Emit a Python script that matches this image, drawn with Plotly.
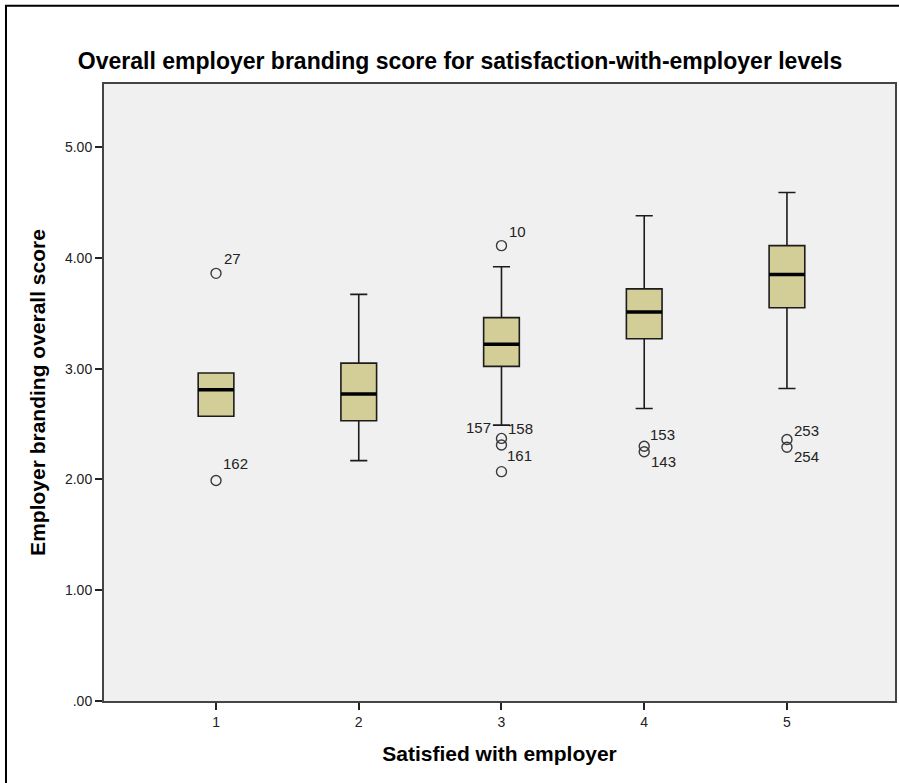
import plotly.graph_objects as go

# Satisfaction levels and box-plot summaries of the branding score
levels = [1, 2, 3, 4, 5]
q1 = [2.57, 2.53, 3.02, 3.27, 3.55]
median = [2.81, 2.77, 3.22, 3.51, 3.85]
q3 = [2.96, 3.05, 3.46, 3.72, 4.11]
lower_whisker = [2.57, 2.17, 2.49, 2.64, 2.82]
upper_whisker = [2.96, 3.67, 3.92, 4.38, 4.59]

# Outlying cases: level, score, case number
out_level = [1, 1, 3, 3, 3, 3, 4, 4, 5, 5]
out_score = [3.86, 1.99, 4.11, 2.37, 2.31, 2.07, 2.30, 2.25, 2.36, 2.29]
out_case = ["27", "162", "10", "157", "158", "161", "153", "143", "253", "254"]
# label placement around each point (pixels): xshift, yshift, anchor
lab_dx = [6, 5, 6, -8, 5, 4, 4, 5, 5, 5]
lab_dy = [15, 17, 14, 11, 17, 16, 12, -10, 9, -9]
lab_anchor = ["left", "left", "left", "right", "left", "left", "left", "left", "left", "left"]

y_ticks = [0, 1, 2, 3, 4, 5]
y_tick_text = [".00", "1.00", "2.00", "3.00", "4.00", "5.00"]

FONT = "Liberation Sans, Arial, sans-serif"
BOX_W = 0.25

fig = go.Figure()

fig.add_trace(go.Box(
    x=levels, q1=q1, median=median, q3=q3,
    lowerfence=lower_whisker, upperfence=upper_whisker,
    width=BOX_W, whiskerwidth=0.48,
    fillcolor="#D3CE97",
    line=dict(color="#1c1c1c", width=1.6),
    boxpoints=False, hoverinfo="skip", showlegend=False,
))

# heavier median bars drawn over the boxes
mx, my = [], []
for lv, m in zip(levels, median):
    mx += [lv - BOX_W / 2, lv + BOX_W / 2, None]
    my += [m, m, None]
fig.add_trace(go.Scatter(
    x=mx, y=my, mode="lines",
    line=dict(color="#000000", width=3.5),
    hoverinfo="skip", showlegend=False,
))

fig.add_trace(go.Scatter(
    x=out_level, y=out_score, mode="markers",
    marker=dict(symbol="circle-open", size=10,
                color="#3a3a3a", line=dict(width=1.4, color="#3a3a3a")),
    hoverinfo="skip", showlegend=False,
))

for lv, sc, case, dx, dy, anc in zip(out_level, out_score, out_case,
                                     lab_dx, lab_dy, lab_anchor):
    fig.add_annotation(
        x=lv, y=sc, text=case, showarrow=False,
        xanchor=anc, yanchor="middle", xshift=dx, yshift=dy,
        font=dict(family=FONT, size=15, color="#222222"),
    )

# outer chart frame
fig.add_shape(
    type="rect", xref="paper", yref="paper",
    x0=-0.1239, x1=1.2, y0=-0.3, y1=1.1269,
    line=dict(color="#000000", width=2), layer="below",
)

fig.update_layout(
    width=899, height=783,
    margin=dict(l=104, r=2, t=84, b=82),
    paper_bgcolor="#FFFFFF",
    plot_bgcolor="#F0F0F0",
    font=dict(family=FONT, color="#222222"),
    title=dict(
        text="<b>Overall employer branding score for satisfaction-with-employer levels</b>",
        font=dict(family=FONT, size=23, color="#000000"),
        x=0.5117, xref="container", xanchor="center",
        y=1 - 61 / 783, yref="container", yanchor="middle",
    ),
    xaxis=dict(
        range=[0.2152, 5.757],
        tickvals=levels, ticktext=[str(v) for v in levels],
        ticks="outside", ticklen=7, tickwidth=1.5, tickcolor="#222222",
        tickfont=dict(family=FONT, size=14, color="#222222"),
        showgrid=False, zeroline=False,
        showline=True, linecolor="#444444", linewidth=2, mirror=True,
        title=dict(text="<b>Satisfied with employer</b>",
                   font=dict(family=FONT, size=21, color="#000000"),
                   standoff=18),
    ),
    yaxis=dict(
        range=[0, 5.569],
        tickvals=y_ticks, ticktext=y_tick_text,
        ticks="outside", ticklen=7, tickwidth=1.5, tickcolor="#222222",
        tickfont=dict(family=FONT, size=14, color="#222222"),
        showgrid=False, zeroline=False,
        showline=True, linecolor="#444444", linewidth=2, mirror=True,
        title=dict(text="<b>Employer branding overall score</b>",
                   font=dict(family=FONT, size=21, color="#000000"),
                   standoff=14),
    ),
)

fig.write_html("out.html")
